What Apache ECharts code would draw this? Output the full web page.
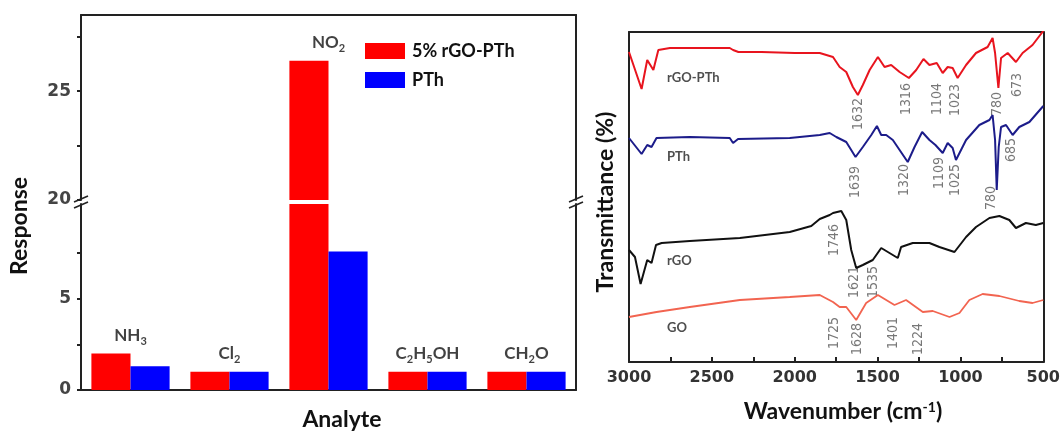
<!DOCTYPE html>
<html><head><meta charset="utf-8">
<script src="https://cdn.jsdelivr.net/npm/echarts@6/dist/echarts.min.js"></script>
<style>html,body{margin:0;background:#fff}#c{width:1063px;height:432px}</style>
</head><body><div id="c"></div>
<script>
// ---------- Left panel data (gas response) ----------
const analytes = ['NH3', 'Cl2', 'NO2', 'C2H5OH', 'CH2O'];
const analyteLabels = ['NH{s|3}', 'Cl{s|2}', 'NO{s|2}', 'C{s|2}H{s|5}OH', 'CH{s|2}O'];
const respRgoPth = [2.0, 1.0, 26.4, 1.0, 1.0];
const respPth = [1.3, 1.0, 7.6, 1.0, 1.0];
const lowerMax = 10.2, upperMin = 20, upperMax = 28.5;
const upperTicks = [20, 22.5, 25, 27.5];
const upperTickLabels = [20, 25];
const lowerTicks = [0, 2.5, 5, 7.5];
const lowerTickLabels = [0, 5];

// ---------- Right panel data (FTIR, [wavenumber, transmittance a.u.]) ----------
const wnTickLabels = [3000, 2500, 2000, 1500, 1000, 500];
const ftirRgoPth = [[3000,310],[2924,273],[2890,302],[2853,292],[2823,312],[2753,314],[2392,314],[2372,312],[2340,310],[2200,310],[2000,309],[1900,309],[1849,309],[1769,305],[1729,295],[1689,290],[1649,275],[1619,267],[1589,277],[1548,292],[1498,305],[1458,295],[1418,297],[1367,290],[1311,284],[1267,292],[1223,303],[1187,297],[1143,299],[1107,289],[1077,295],[1047,294],[1017,284],[966,297],[906,309],[836,315],[806,324],[791,309],[771,274],[755,304],[715,309],[665,300],[625,309],[565,317],[500,331]];
const ftirPth = [[3000,224],[2924,208],[2890,217],[2864,215],[2834,224],[2633,225],[2392,224],[2372,219],[2342,223],[2030,224],[1849,227],[1789,229],[1749,225],[1689,220],[1633,205],[1589,215],[1538,227],[1504,236],[1478,227],[1448,227],[1408,222],[1318,200],[1277,215],[1231,230],[1187,222],[1151,217],[1107,209],[1077,219],[1047,214],[1027,202],[966,222],[886,237],[825,242],[806,247],[791,222],[781,172],[769,215],[755,235],[725,237],[685,227],[645,235],[584,240],[500,256]];
const ftirRgo = [[3000,112],[2964,105],[2930,78],[2890,102],[2864,99],[2837,117],[2803,119],[2633,121],[2331,124],[2030,130],[1900,136],[1849,143],[1789,147],[1769,149],[1719,151],[1689,142],[1659,112],[1629,94],[1589,97],[1529,102],[1478,114],[1428,109],[1378,104],[1358,115],[1288,119],[1187,119],[1127,115],[1036,110],[966,125],[906,135],[825,144],[765,146],[705,142],[665,134],[605,139],[545,137],[500,139]];
const ftirGo = [[3000,45],[2834,50],[2633,55],[2331,62],[2030,65],[1849,67],[1769,60],[1729,55],[1689,55],[1629,42],[1569,59],[1498,67],[1398,57],[1328,62],[1227,50],[1167,51],[1066,45],[1006,49],[946,62],[866,68],[765,66],[645,61],[565,59],[500,62]];
const curveNames = [[2771,284,'rGO-PTh'],[2771,205,'PTh'],[2771,101,'rGO'],[2771,34,'GO']];
const peakLabels = [[1619,248,'1632'],[1324,263,'1316'],[1137,263,'1104'],[1030,262,'1023'],[779,258,'780'],[659,277,'673'],
  [1633,180,'1639'],[1337,182,'1320'],[1127,189,'1109'],[1030,182,'1025'],[691,212,'685'],[813,164,'780'],
  [1759,122,'1746'],[1639,80,'1621'],[1528,80,'1535'],
  [1759,29,'1725'],[1625,23,'1628'],[1404,29,'1401'],[1251,23,'1224']];

const RED = '#ff0000', BLUE = '#0000ff';
const AX = {lineStyle: {color: '#222', width: 2}};
const titleFont = 'Lato, "Open Sans", sans-serif';
const tickFont = 'DejaVu Sans';

const chart = echarts.init(document.getElementById('c'));
const L = 81, W = 495;
const barCommon = {type: 'bar', barGap: '0%', barCategoryGap: '21%', clip: true};
const catLabel = {
  show: true, position: 'top', distance: 7, color: '#111',
  formatter: p => analyteLabels[p.dataIndex],
  fontFamily: titleFont, fontWeight: 'bold', fontSize: 17, lineHeight: 22,
  rich: {s: {fontFamily: titleFont, fontWeight: 'bold', fontSize: 11, lineHeight: 12, verticalAlign: 'bottom', color: '#111'}}
};
const maxResp = respRgoPth.map((v, i) => Math.max(v, respPth[i]));
const plain = v => String(v);

chart.setOption({
  animation: false,
  grid: [
    {left: L, top: 15, width: W, height: 185},
    {left: L, top: 204, width: W, height: 186},
    {left: 629, top: 32, width: 415, height: 330}
  ],
  legend: {
    data: ['5% rGO-PTh', 'PTh'], orient: 'vertical', left: 360, top: 37,
    itemWidth: 40, itemHeight: 16, itemGap: 11, icon: 'rect',
    textStyle: {fontFamily: titleFont, fontWeight: 'bold', fontSize: 18, color: '#111', padding: [0, 0, 0, 2]}
  },
  xAxis: [
    {type: 'category', gridIndex: 0, data: analytes, position: 'top', axisLine: {show: true, onZero: false, ...AX}, axisTick: {show: false}, axisLabel: {show: false}},
    {type: 'category', gridIndex: 1, data: analytes, position: 'bottom', axisLine: {show: true, onZero: false, ...AX}, axisTick: {show: false}, axisLabel: {show: false}},
    {type: 'value', gridIndex: 2, min: 500, max: 3000, interval: 500, inverse: true, position: 'bottom',
      axisLine: {show: true, onZero: false, ...AX},
      axisTick: {show: true, inside: true, length: 5, lineStyle: {color: '#222', width: 2}},
      minorTick: {show: true, splitNumber: 2, length: 5, lineStyle: {color: '#222', width: 2}},
      splitLine: {show: false},
      axisLabel: {color: '#333', fontFamily: tickFont, fontWeight: 'bold', fontSize: 16, margin: 8,
        customValues: wnTickLabels, formatter: plain}},
    {type: 'value', gridIndex: 2, min: 500, max: 3000, inverse: true, position: 'top',
      axisLine: {show: true, onZero: false, ...AX}, axisTick: {show: false}, axisLabel: {show: false}, splitLine: {show: false}}
  ],
  yAxis: [
    {type: 'value', gridIndex: 0, min: upperMin, max: upperMax, position: 'left',
      axisLine: {show: true, onZero: false, ...AX},
      axisTick: {show: true, length: 4, customValues: upperTicks, lineStyle: {color: '#222', width: 2}},
      axisLabel: {customValues: upperTickLabels, formatter: plain, color: '#444', fontFamily: tickFont, fontWeight: 'bold', fontSize: 17, margin: 10},
      splitLine: {show: false}},
    {type: 'value', gridIndex: 0, min: upperMin, max: upperMax, position: 'right',
      axisLine: {show: true, onZero: false, ...AX}, axisTick: {show: false}, axisLabel: {show: false}, splitLine: {show: false}},
    {type: 'value', gridIndex: 1, min: 0, max: lowerMax, position: 'left',
      axisLine: {show: true, onZero: false, ...AX},
      axisTick: {show: true, length: 4, customValues: lowerTicks, lineStyle: {color: '#222', width: 2}},
      axisLabel: {customValues: lowerTickLabels, formatter: plain, color: '#444', fontFamily: tickFont, fontWeight: 'bold', fontSize: 17, margin: 10},
      splitLine: {show: false}},
    {type: 'value', gridIndex: 1, min: 0, max: lowerMax, position: 'right',
      axisLine: {show: true, onZero: false, ...AX}, axisTick: {show: false}, axisLabel: {show: false}, splitLine: {show: false}},
    {type: 'value', gridIndex: 2, min: 0, max: 330, position: 'left',
      axisLine: {show: true, onZero: false, ...AX}, axisTick: {show: false}, axisLabel: {show: false}, splitLine: {show: false}},
    {type: 'value', gridIndex: 2, min: 0, max: 330, position: 'right',
      axisLine: {show: true, onZero: false, ...AX}, axisTick: {show: false}, axisLabel: {show: false}, splitLine: {show: false}}
  ],
  series: [
    {...barCommon, name: '5% rGO-PTh', xAxisIndex: 0, yAxisIndex: 0, itemStyle: {color: RED},
      data: respRgoPth.map(v => v > upperMin ? v : '-')},
    {...barCommon, name: 'PTh', xAxisIndex: 0, yAxisIndex: 0, itemStyle: {color: BLUE},
      data: respPth.map(v => v > upperMin ? v : '-')},
    {...barCommon, name: '5% rGO-PTh', xAxisIndex: 1, yAxisIndex: 2, itemStyle: {color: RED},
      data: respRgoPth.map(v => Math.min(v, lowerMax))},
    {...barCommon, name: 'PTh', xAxisIndex: 1, yAxisIndex: 2, itemStyle: {color: BLUE},
      data: respPth.map(v => Math.min(v, lowerMax))},
    {type: 'scatter', name: 'catLabelsUpper', xAxisIndex: 0, yAxisIndex: 0, symbolSize: 0, silent: true,
      data: maxResp.map(v => v > upperMin ? v : '-'), label: catLabel},
    {type: 'scatter', name: 'catLabelsLower', xAxisIndex: 1, yAxisIndex: 2, symbolSize: 0, silent: true,
      data: maxResp.map(v => v > upperMin ? '-' : v), label: catLabel},
    {type: 'line', name: 'FTIR rGO-PTh', xAxisIndex: 2, yAxisIndex: 4, showSymbol: false, data: ftirRgoPth,
      lineStyle: {color: '#e8141e', width: 2}, itemStyle: {color: '#e8141e'}},
    {type: 'line', name: 'FTIR PTh', xAxisIndex: 2, yAxisIndex: 4, showSymbol: false, data: ftirPth,
      lineStyle: {color: '#1c1c8a', width: 2}, itemStyle: {color: '#1c1c8a'}},
    {type: 'line', name: 'FTIR rGO', xAxisIndex: 2, yAxisIndex: 4, showSymbol: false, data: ftirRgo,
      lineStyle: {color: '#111111', width: 2}, itemStyle: {color: '#111'}},
    {type: 'line', name: 'FTIR GO', xAxisIndex: 2, yAxisIndex: 4, showSymbol: false, data: ftirGo,
      lineStyle: {color: '#f26450', width: 1.8}, itemStyle: {color: '#f26450'}},
    {type: 'scatter', name: 'curveNames', xAxisIndex: 2, yAxisIndex: 4, symbolSize: 0, silent: true, data: curveNames,
      label: {show: true, position: 'right', distance: 0, formatter: p => p.data[2], color: '#222',
        fontFamily: titleFont, fontWeight: 'bold', fontSize: 13}},
    {type: 'scatter', name: 'peakLabels', xAxisIndex: 2, yAxisIndex: 4, symbolSize: 0, silent: true, data: peakLabels,
      label: {show: true, position: 'inside', rotate: 90, formatter: p => p.data[2], color: '#555',
        fontFamily: 'Liberation Sans Narrow, DejaVu Sans Condensed, Arial, sans-serif', fontSize: 14}}
  ],
  graphic: [
    {type: 'text', x: 20, y: 226, rotation: Math.PI / 2,
      style: {text: 'Response', fontFamily: titleFont, fontWeight: 'bold', fontSize: 23, fill: '#111', align: 'center', verticalAlign: 'middle'}},
    {type: 'text', x: 342, y: 420,
      style: {text: 'Analyte', fontFamily: titleFont, fontWeight: 'bold', fontSize: 23, fill: '#111', align: 'center', verticalAlign: 'middle'}},
    {type: 'text', x: 606, y: 202, rotation: Math.PI / 2,
      style: {text: 'Transmittance (%)', fontFamily: titleFont, fontWeight: 'bold', fontSize: 23, fill: '#111', align: 'center', verticalAlign: 'middle'}},
    {type: 'text', x: 843, y: 412,
      style: {text: 'Wavenumber (cm{sup|-1})', fontFamily: titleFont, fontWeight: 'bold', fontSize: 23, fill: '#111', align: 'center', verticalAlign: 'middle',
        rich: {sup: {fontFamily: titleFont, fontWeight: 'bold', fontSize: 14, fill: '#111', verticalAlign: 'top', lineHeight: 14}}}},
    // axis break marks
    ...[L, L + W].flatMap(x => [0, 6].map(d => ({type: 'line', z: 100,
      shape: {x1: x - 7, y1: 202 + d, x2: x + 7, y2: 196 + d}, style: {stroke: '#222', lineWidth: 1.6}})))
  ]
});
</script></body></html>
